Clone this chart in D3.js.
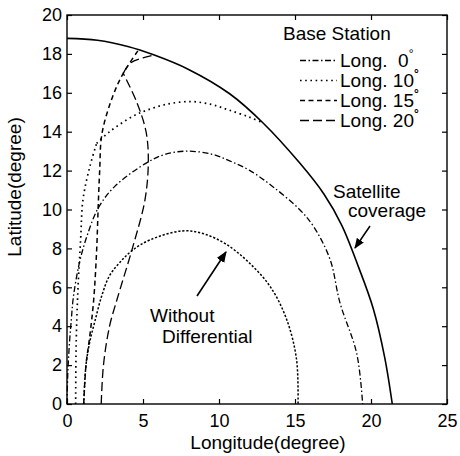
<!DOCTYPE html>
<html><head><meta charset="utf-8">
<script src="https://cdn.jsdelivr.net/npm/d3@7"></script>
<style>
html,body{margin:0;padding:0;background:#fff;}
svg{display:block;font-family:"Liberation Sans",Arial,Helvetica,sans-serif;}
</style></head><body>
<svg id="chart" width="460" height="456"></svg>
<script>
// ---- data (longitude, latitude in degrees) ----
const xTicks = [0, 5, 10, 15, 20, 25];
const yTicks = [0, 2, 4, 6, 8, 10, 12, 14, 16, 18, 20];

const coverage = [[0,18.8],[2,18.7],[4,18.38],[5.7,17.95],[8,17.2],[10.7,15.95],[12.9,14.45],[15.3,12.4],[16.9,10.8],[18.07,9.2],[19.2,7.0],[20.15,4.9],[20.9,2.4],[21.4,0]];

const long0 = [[0,0],[0.05,1.5],[0.15,3],[0.28,4.3],[0.42,5.5],[0.8,7.2],[1.3,8.6],[2.07,10.1],[3.16,11.2],[5.24,12.4],[6.5,12.85],[7.9,13.0],[9.5,12.85],[10.7,12.5],[12.04,12.0],[13.5,11.2],[15.3,10.0],[16.2,9.15],[17.3,7.45],[17.96,5.2],[19.06,2.6],[19.45,0]];

const long10Up = [[0.57,0],[0.6,3],[0.72,5.9],[0.9,8.5],[1.05,10.5],[1.5,12.2],[1.95,13.4]];
const long10Across = [[1.95,13.4],[2.8,14.0],[4.35,14.8],[5.24,15.1],[6.5,15.4],[8.1,15.55],[9.5,15.4],[10.7,15.1],[12.0,14.75],[12.9,14.45]];

const long15 = [[1.1,0],[1.25,2],[1.5,3.5],[1.75,5.3],[1.95,7.9],[2.05,10.1],[2.15,12],[2.3,13.9],[3.0,15.8],[3.7,17.0],[4.7,18.2]];

const long20Up = [[2.25,0],[2.4,2],[2.8,4],[3.3,5.4],[4.3,8],[5.13,10.5],[5.35,12.5],[5.2,14],[4.6,15.5],[3.7,17.0]];
const long20Top = [[3.7,17.0],[4.2,17.55],[5.0,17.8],[5.8,17.95]];

const noDiff = [[1.1,0],[1.25,2],[1.5,3.2],[1.85,4.3],[2.3,5.6],[2.8,6.6],[3.5,7.3],[4.3,7.9],[5.5,8.45],[7.6,8.9],[9,8.75],[10.5,8.2],[12,7.25],[13.4,6.0],[14.45,4.35],[15.1,2.3],[15.2,0]];

const legendLabels = ["Long.  0", "Long. 10", "Long. 15", "Long. 20"];
const legendTitle = "Base Station";

// ---- drawing ----
const svg = d3.select("#chart");
const x = d3.scaleLinear().domain([0, 25]).range([67, 447]);
const y = d3.scaleLinear().domain([0, 20]).range([404, 15]);

const styles = {
  coverage: {dash: null, w: 1.6},
  long0: {dash: "6,2.5,1.5,2.5", w: 1.3},
  long10: {dash: "1.6,3.6", w: 1.7},
  long15: {dash: "5,3.5", w: 1.5},
  long20: {dash: "9,4", w: 1.3},
  noDiff: {dash: "2.2,1.8", w: 1.5}
};

const line = d3.line().x(d => x(d[0])).y(d => y(d[1])).curve(d3.curveCatmullRom.alpha(0.5));

function draw(data, st) {
  svg.append("path").datum(data).attr("d", line)
    .attr("fill", "none").attr("stroke", "#000")
    .attr("stroke-width", st.w)
    .attr("stroke-dasharray", st.dash);
}
draw(coverage, styles.coverage);
draw(long0, styles.long0);
draw(long10Up, styles.long10);
draw(long10Across, styles.long10);
draw(long15, styles.long15);
draw(long20Up, styles.long20);
draw(long20Top, styles.long20);
draw(noDiff, styles.noDiff);

// axes
const fs = 18;
const gx = svg.append("g").attr("transform", "translate(0,404)")
  .call(d3.axisBottom(x).tickValues(xTicks).tickFormat(d3.format("d")).tickSizeInner(-5).tickSizeOuter(0).tickPadding(10));
const gy = svg.append("g").attr("transform", "translate(67,0)")
  .call(d3.axisLeft(y).tickValues(yTicks).tickFormat(d3.format("d")).tickSizeInner(-5).tickSizeOuter(0).tickPadding(5));
const gt = svg.append("g").attr("transform", "translate(0,15)")
  .call(d3.axisTop(x).tickValues(xTicks).tickFormat("").tickSizeInner(-5).tickSizeOuter(0));
const gr = svg.append("g").attr("transform", "translate(447,0)")
  .call(d3.axisRight(y).tickValues(yTicks).tickFormat("").tickSizeInner(-5).tickSizeOuter(0));
[gx, gy, gt, gr].forEach(g => {
  g.select(".domain").remove();
  g.selectAll("line").attr("stroke", "#000").attr("stroke-width", 1.2);
  g.selectAll("text").attr("fill", "#000").style("font-size", fs + "px").style("font-family", "'Liberation Sans',Arial,sans-serif");
});
svg.append("rect").attr("x", x(0)).attr("y", y(20)).attr("width", x(25) - x(0)).attr("height", y(0) - y(20))
  .attr("fill", "none").attr("stroke", "#000").attr("stroke-width", 1.4);

// axis labels
svg.append("text").attr("x", (x(0) + x(25)) / 2 + 11).attr("y", 449).attr("text-anchor", "middle")
  .style("font-size", "19px").text("Longitude(degree)");
svg.append("text").attr("transform", "translate(21,187) rotate(-90)").attr("text-anchor", "middle")
  .style("font-size", "19px").text("Latitude(degree)");

// legend
const lg = svg.append("g");
lg.append("text").attr("x", 283).attr("y", 40).style("font-size", "19px").text(legendTitle);
const legStyles = [styles.long0, styles.long10, styles.long15, styles.long20];
legendLabels.forEach((lab, i) => {
  const by = 66.5 + i * 20;
  lg.append("line").attr("x1", 300).attr("x2", 337).attr("y1", by - 6).attr("y2", by - 6)
    .attr("stroke", "#000").attr("stroke-width", legStyles[i].w).attr("stroke-dasharray", legStyles[i].dash);
  const t = lg.append("text").attr("x", 340).attr("y", by).style("font-size", "19px").attr("xml:space", "preserve");
  t.append("tspan").text(lab);
  t.append("tspan").attr("dy", -9).style("font-size", "12px").style("font-weight", i === 0 ? "normal" : "bold").text("°");
});

// annotations
const defs = svg.append("defs");
defs.append("marker").attr("id", "ah").attr("viewBox", "0 0 10 10").attr("refX", 9).attr("refY", 5)
  .attr("markerWidth", 7).attr("markerHeight", 7).attr("orient", "auto")
  .append("path").attr("d", "M0,1 L10,5 L0,9 Z").attr("fill", "#000");

svg.append("text").attr("x", 333).attr("y", 198).style("font-size", "19px").text("Satellite");
svg.append("text").attr("x", 348).attr("y", 217).style("font-size", "19px").text("coverage");
svg.append("line").attr("x1", 370).attr("y1", 226).attr("x2", 355).attr("y2", 248)
  .attr("stroke", "#000").attr("stroke-width", 1.5).attr("marker-end", "url(#ah)");

svg.append("text").attr("x", 150).attr("y", 322).style("font-size", "19px").text("Without");
svg.append("text").attr("x", 162).attr("y", 343).style("font-size", "19px").text("Differential");
svg.append("line").attr("x1", 197).attr("y1", 296).attr("x2", 226).attr("y2", 252)
  .attr("stroke", "#000").attr("stroke-width", 1.6).attr("marker-end", "url(#ah)");
</script>
</body></html>
